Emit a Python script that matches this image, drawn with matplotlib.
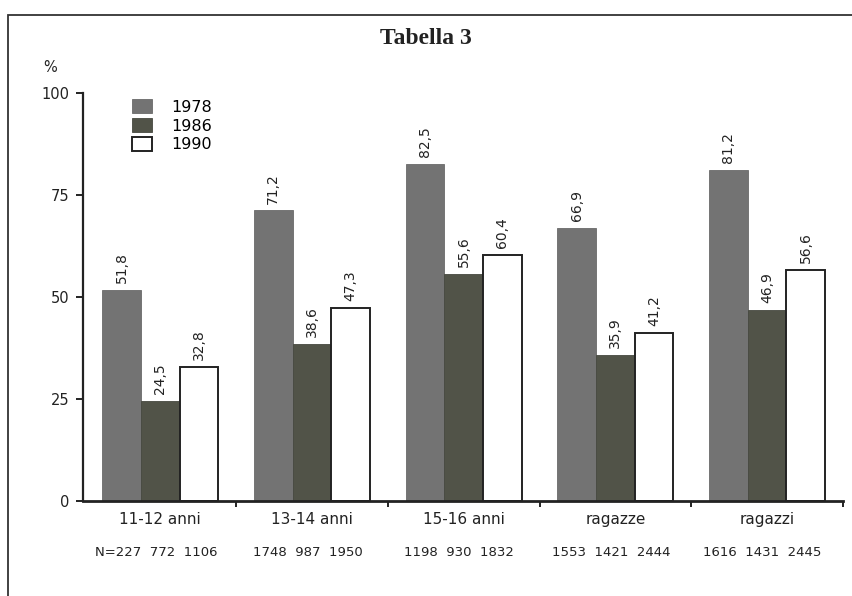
import numpy as np
from matplotlib import pyplot as plt
from matplotlib.patches import Rectangle, Patch

# Data
groups = ["11-12 anni", "13-14 anni", "15-16 anni", "ragazze", "ragazzi"]
counts = ["N=227  772  1106", "1748  987  1950", "1198  930  1832",
          "1553  1421  2444", "1616  1431  2445"]
years = ["1978", "1986", "1990"]
v1978 = [51.8, 71.2, 82.5, 66.9, 81.2]
v1986 = [24.5, 38.6, 55.6, 35.9, 46.9]
v1990 = [32.8, 47.3, 60.4, 41.2, 56.6]

fills = ["#737373", "#515348", "white"]
edges = ["#6a6a6a", "#46483f", "#222222"]

plt.rcParams['font.family'] = ['DejaVu Sans']

fig = plt.figure(figsize=(8.52, 5.96), dpi=100)
ax = fig.add_axes([0.0974, 0.1594, 0.892, 0.6846])

x = np.arange(len(groups))
w = 0.255
for k, vals in enumerate([v1978, v1986, v1990]):
    pos = x + (k - 1) * w
    ax.bar(pos, vals, width=w, color=fills[k], edgecolor=edges[k],
           linewidth=1.4 if k == 2 else 0.6, zorder=2)
    for xi, v in zip(pos, vals):
        ax.annotate(f"{v:.1f}".replace(".", ","), (xi, v), xytext=(0, 5),
                    textcoords="offset points", rotation=90,
                    ha="center", va="bottom", fontsize=10, color="#222222")

ax.set_xlim(-0.51, 4.5)
ax.set_ylim(0, 100)

for s in ["top", "right"]:
    ax.spines[s].set_visible(False)
ax.spines["left"].set_linewidth(1.6)
ax.spines["bottom"].set_linewidth(2.0)
ax.spines["left"].set_color("#222222")
ax.spines["bottom"].set_color("#222222")

ax.set_yticks([0, 25, 50, 75, 100])
ax.tick_params(axis="y", direction="out", length=5, width=1.4,
               labelsize=10.5, colors="#222222", pad=5)

# category labels at group centres, tick marks at group boundaries
ax.set_xticks(x)
ax.set_xticklabels(groups, fontsize=11, color="#222222")
ax.tick_params(axis="x", which="major", length=0, pad=8)
ax.set_xticks(x + 0.5, minor=True)
ax.tick_params(axis="x", which="minor", direction="out", length=4,
               width=1.4, colors="#222222")

for xi, n in zip(x, counts):
    ax.text(xi - 0.03, -0.125, n, transform=ax.get_xaxis_transform(),
            ha="center", va="center", fontsize=9.5, color="#222222")

handles = [Patch(facecolor=fills[k], edgecolor=edges[k],
                 linewidth=1.4 if k == 2 else 0.6) for k in range(3)]
ax.legend(handles, years, loc="upper left", bbox_to_anchor=(0.045, 1.02),
          frameon=False, fontsize=11.5, handlelength=1.3, handleheight=1.0,
          labelspacing=0.2, handletextpad=1.2)

fig.text(0.5, 0.936, "Tabella 3", ha="center", va="center",
         fontsize=17, fontweight="bold", family="Liberation Serif",
         color="#222222")
fig.text(0.0587, 0.886, "%", ha="center", va="center", fontsize=10.5,
         color="#222222")

# border of the scanned page
fig.add_artist(Rectangle((8 / 852, -0.05), 1.0, 1 - 15 / 596 + 0.05,
                         transform=fig.transFigure, fill=False,
                         edgecolor="#333333", linewidth=1.3))

fig.savefig("out.png", dpi=100)
